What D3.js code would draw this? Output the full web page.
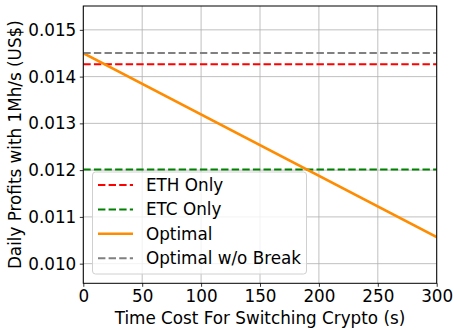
<!DOCTYPE html>
<html>
<head>
<meta charset="utf-8">
<script src="https://cdn.jsdelivr.net/npm/d3@7"></script>
<style>
  html, body { margin: 0; padding: 0; background: #fff; }
  svg { display: block; font-family: "DejaVu Sans", sans-serif; }
</style>
</head>
<body>
<svg id="chart" width="453" height="330"></svg>
<script>
// Switching-time cost (seconds) on the x axis
const switchTimes = [0, 300];
// Daily profit per 1 Mh/s (US$) for each strategy
const ethOnly = [0.014265, 0.014265];
const etcOnly = [0.012015, 0.012015];
const optimal = [0.01450, 0.01057];
const optimalNoBreak = [0.014507, 0.014507];

const xTicks = [0, 50, 100, 150, 200, 250, 300];
const yTicks = [0.010, 0.011, 0.012, 0.013, 0.014, 0.015];

const seriesList = [
  { name: "ETH Only", values: ethOnly, color: "#ff0000", dash: "7.4,3.2", width: 2 },
  { name: "ETC Only", values: etcOnly, color: "#008000", dash: "7.4,3.2", width: 2 },
  { name: "Optimal", values: optimal, color: "#ff8c00", dash: null, width: 2.6 },
  { name: "Optimal w/o Break", values: optimalNoBreak, color: "#808080", dash: "7.4,3.2", width: 2 }
];

const fontPx = "16.8px";
const svg = d3.select("#chart");
const plotL = 83.3, plotR = 436.7, plotT = 6, plotB = 283.3;

const x = d3.scaleLinear().domain([0, 300]).range([plotL, plotR]);
const y = d3.scaleLinear().domain([0.00958, 0.01551]).range([plotB, plotT]);

// grid
const grid = svg.append("g").attr("stroke", "#b0b0b0").attr("stroke-width", 0.8);
xTicks.forEach(t => grid.append("line")
  .attr("x1", x(t)).attr("x2", x(t)).attr("y1", plotT).attr("y2", plotB));
yTicks.forEach(t => grid.append("line")
  .attr("x1", plotL).attr("x2", plotR).attr("y1", y(t)).attr("y2", y(t)));

// data lines
svg.append("clipPath").attr("id", "plotClip")
  .append("rect").attr("x", plotL).attr("y", plotT)
  .attr("width", plotR - plotL).attr("height", plotB - plotT);

const lineGen = d3.line().x((d, i) => x(switchTimes[i])).y(d => y(d));
const plot = svg.append("g").attr("clip-path", "url(#plotClip)");
seriesList.forEach(s => {
  plot.append("path")
    .attr("d", lineGen(s.values))
    .attr("fill", "none")
    .attr("stroke", s.color)
    .attr("stroke-width", s.width)
    .attr("stroke-dasharray", s.dash);
});

// axes
const xAxis = d3.axisBottom(x).tickValues(xTicks).tickSize(3.5).tickPadding(3.5)
  .tickFormat(d3.format("d"));
const yAxis = d3.axisLeft(y).tickValues(yTicks).tickSize(3.5).tickPadding(3.5)
  .tickFormat(d3.format(".3f"));

const gx = svg.append("g").attr("transform", `translate(0,${plotB})`).call(xAxis);
const gy = svg.append("g").attr("transform", `translate(${plotL},0)`).call(yAxis);
[gx, gy].forEach(g => {
  g.select(".domain").remove();
  g.selectAll(".tick line").attr("stroke", "#000").attr("stroke-width", 0.8);
  g.selectAll(".tick text").attr("fill", "#000")
    .style("font-size", fontPx).style("font-family", "DejaVu Sans, sans-serif");
});

// frame
svg.append("rect").attr("x", plotL).attr("y", plotT)
  .attr("width", plotR - plotL).attr("height", plotB - plotT)
  .attr("fill", "none").attr("stroke", "#000").attr("stroke-width", 1);

// axis titles
svg.append("text")
  .attr("x", (plotL + plotR) / 2).attr("y", 323.5)
  .attr("text-anchor", "middle").style("font-size", fontPx)
  .text("Time Cost For Switching Crypto (s)");
svg.append("text")
  .attr("transform", `translate(21,${(plotT + plotB) / 2}) rotate(-90)`)
  .attr("text-anchor", "middle").style("font-size", fontPx)
  .text("Daily Profits with 1Mh/s (US$)");

// legend
const lg = svg.append("g");
lg.append("rect")
  .attr("x", 92.5).attr("y", 172).attr("width", 214).attr("height", 102)
  .attr("rx", 3).attr("fill", "#fff").attr("fill-opacity", 0.8)
  .attr("stroke", "#d0d0d0").attr("stroke-width", 1);
seriesList.forEach((s, i) => {
  const cy = 185 + i * 24.4;
  lg.append("line")
    .attr("x1", 98).attr("x2", 133).attr("y1", cy).attr("y2", cy)
    .attr("stroke", s.color).attr("stroke-width", s.width)
    .attr("stroke-dasharray", s.dash);
  lg.append("text")
    .attr("x", 146).attr("y", cy).attr("dy", "0.35em")
    .style("font-size", fontPx).text(s.name);
});
</script>
</body>
</html>
